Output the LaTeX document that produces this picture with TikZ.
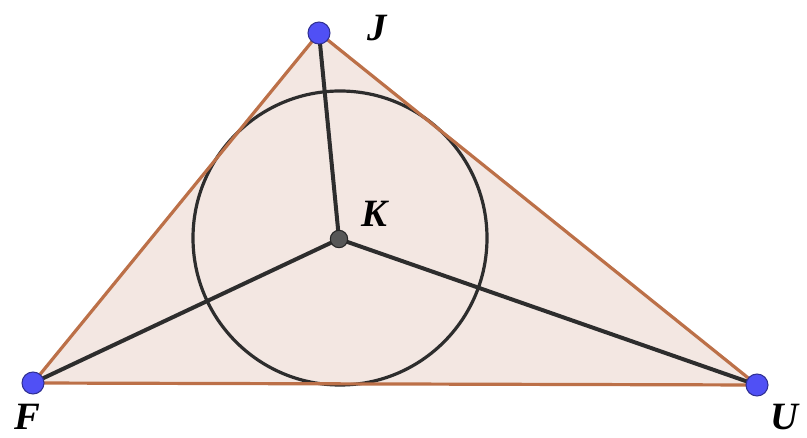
\documentclass[tikz,border=0pt]{standalone}
\usepackage{fontspec}
\setmainfont{Liberation Serif}
\begin{document}
\begin{tikzpicture}[x=0.75pt,y=-0.75pt,
  edge/.style={draw=edgebrown,line width=2.4pt},
  seg/.style={draw=segdark,line width=3pt},
  vdot/.style={circle,fill=vblue,draw=vblue!60!black,line width=0.8pt,minimum size=16.5pt,inner sep=0pt},
  kdot/.style={circle,fill=segdark!80,draw=black!85,line width=0.8pt,minimum size=13pt,inner sep=0pt},
  lab/.style={font=\fontsize{29}{29}\selectfont\bfseries\itshape,inner sep=0pt}]
\definecolor{edgebrown}{RGB}{188,112,72}
\definecolor{segdark}{RGB}{45,45,45}
\definecolor{vblue}{RGB}{80,80,245}
\definecolor{tfill}{RGB}{243,231,226}
\useasboundingbox (0,0) rectangle (807,438);
\coordinate (J) at (319,33);
\coordinate (F) at (33,383);
\coordinate (U) at (757,385);
\coordinate (K) at (339,239);
\fill[tfill] (J) -- (F) -- (U) -- cycle;
\draw[segdark,line width=2.4pt] (340,238) circle[radius=147];
\draw[seg] (K) -- (J);
\draw[seg] (K) -- (F);
\draw[seg] (K) -- (U);
\draw[edge,line join=round] (J) -- (F) -- (U) -- cycle;
\node[vdot] (nJ) at (J) {};
\node[vdot] (nF) at (F) {};
\node[vdot] (nU) at (U) {};
\node[kdot] (nK) at (K) {};
\node[lab] (lJ) at (377,28) {J};
\node[lab] (lF) at (27,417) {F};
\node[lab] (lU) at (784,417) {U};
\node[lab] (lK) at (374,214) {K};
\end{tikzpicture}
\end{document}
